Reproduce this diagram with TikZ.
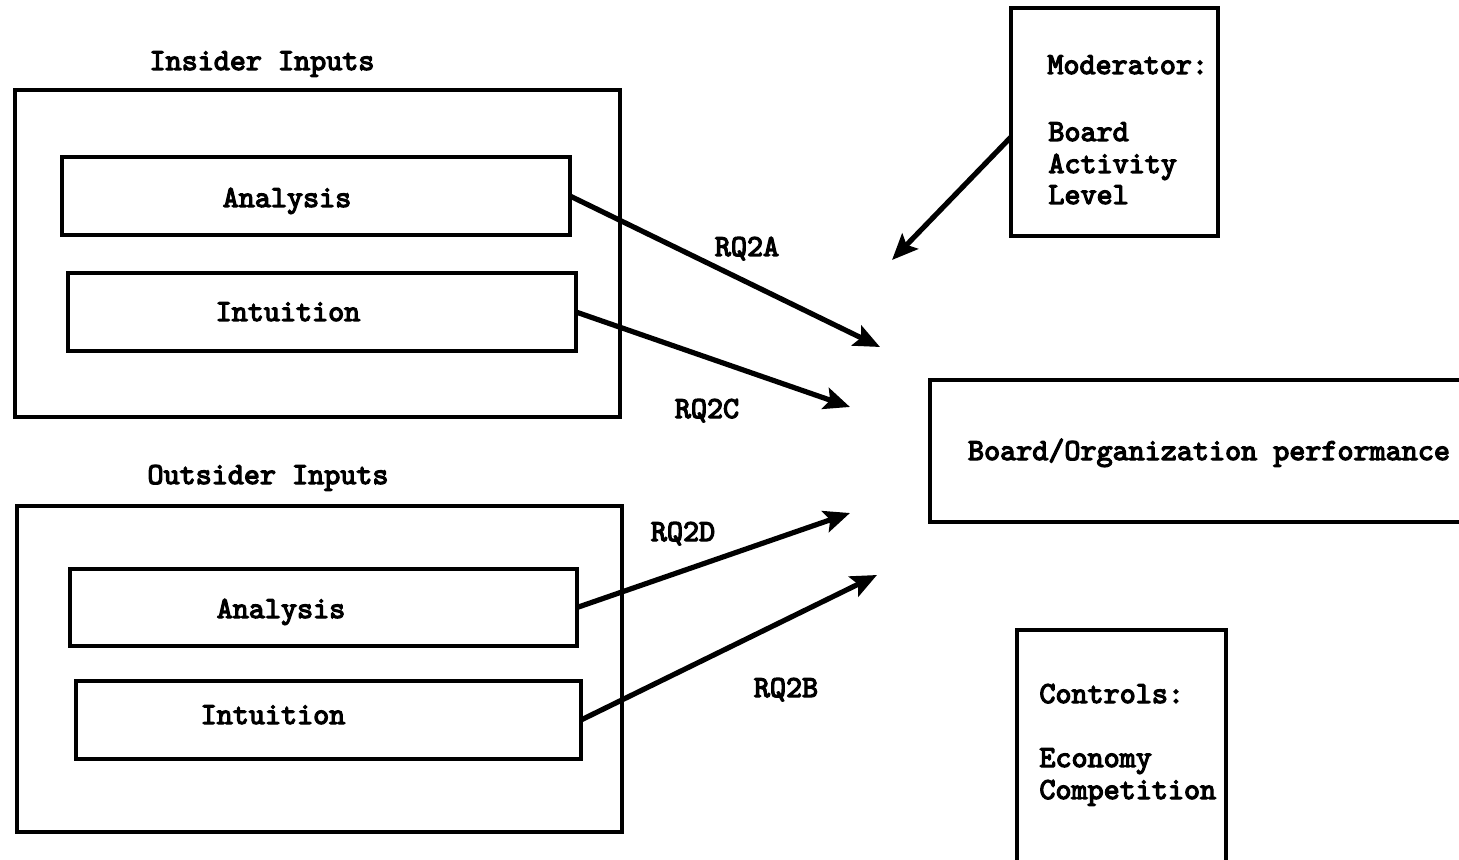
\documentclass[tikz,border=0pt]{standalone}
\usepackage{fontspec}
\setmonofont{lmmono10-regular}[Extension=.otf, AutoFakeBold=4]
\usetikzlibrary{arrows.meta}
\begin{document}
\begin{tikzpicture}[x=0.5pt,y=-0.5pt,
  every node/.style={font=\ttfamily\bfseries\fontsize{15.3pt}{18pt}\selectfont},
  frame/.style={draw, line width=2pt, inner sep=0pt, outer sep=0pt},
  txt/.style={inner sep=0pt, anchor=base},
  ltxt/.style={inner sep=0pt, anchor=base west},
  link/.style={line width=2.6pt, -{Stealth[length=13pt,width=11pt,inset=2.5pt]}}]
\useasboundingbox (0,0) rectangle (1459,860);
\clip (0,0) rectangle (1459,860);

% insider group
\node[txt] (tin) at (262,70) {Insider Inputs};
\node[frame, minimum width=302.5pt, minimum height=163.5pt] (ins) at (317.5,253.5) {};
\node[frame, minimum width=254pt, minimum height=39pt] (ia) at (316,196) {};
\node[txt] (iat) at (287,207) {Analysis};
\node[frame, minimum width=254pt, minimum height=39pt] (ii) at (322,312) {};
\node[txt] (iit) at (288,321) {Intuition};

% outsider group
\node[txt] (tout) at (268,484) {Outsider Inputs};
\node[frame, minimum width=302.5pt, minimum height=163pt] (out) at (319.5,669) {};
\node[frame, minimum width=253.5pt, minimum height=38.5pt] (oa) at (323.5,607.5) {};
\node[txt] (oat) at (281,618) {Analysis};
\node[frame, minimum width=252.5pt, minimum height=39pt] (oi) at (328.5,720) {};
\node[txt] (oit) at (273,724) {Intuition};

% moderator
\node[frame, minimum width=103.5pt, minimum height=114pt] (mod) at (1114.5,122) {};
\node[ltxt] (m1) at (1047,74) {Moderator:};
\node[ltxt] (m2) at (1048,141) {Board};
\node[ltxt] (m3) at (1048,173) {Activity};
\node[ltxt] (m4) at (1048,204) {Level};

% outcome
\node[frame, minimum width=275pt, minimum height=71pt] (perf) at (1205,451) {};
\node[txt] (pt) at (1209,460) {Board/Organization performance};

% controls
\node[frame, minimum width=104.5pt, minimum height=130pt] (ctrl) at (1121.5,760) {};
\node[ltxt] (c1) at (1039,703) {Controls:};
\node[ltxt] (c2) at (1039,767) {Economy};
\node[ltxt] (c3) at (1039,799) {Competition};

% arrow tips
\coordinate (eA) at (880,347);
\coordinate (eC) at (850,407);
\coordinate (eD) at (850,513);
\coordinate (eB) at (877,575);
\coordinate (eM) at (892,260);

\draw[link] (ia.east) -- (eA);
\draw[link] (ii.east) -- (eC);
\draw[link] (oa.east) -- (eD);
\draw[link] (oi.east) -- (eB);
\draw[link] ([yshift=-7.5pt]mod.west) -- (eM);

\node[txt] (rA) at (747,256) {RQ2A};
\node[txt] (rC) at (707,418) {RQ2C};
\node[txt] (rD) at (683,541) {RQ2D};
\node[txt] (rB) at (786,697) {RQ2B};
\end{tikzpicture}
\end{document}
